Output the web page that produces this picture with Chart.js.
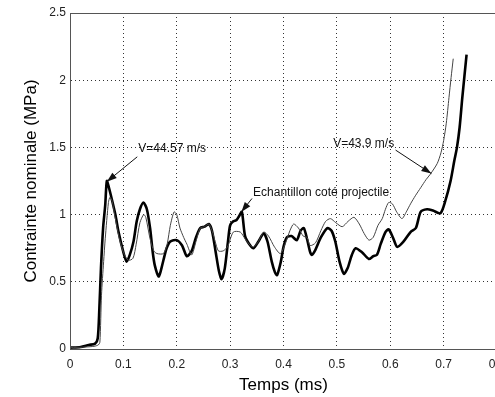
<!DOCTYPE html>
<html>
<head>
<meta charset="utf-8">
<script src="https://cdn.jsdelivr.net/npm/chart.js@4/dist/chart.umd.min.js"></script>
<style>
  html, body { margin: 0; padding: 0; background: #fff; overflow: hidden; }
  #wrap { width: 530px; height: 397px; }
</style>
</head>
<body>
<div id="wrap"><canvas id="chart" width="530" height="397"></canvas></div>
<script>
// thick curve (Echantillon coté projectile, V=44.57 m/s)
const tThick = [0, 0.02, 0.035, 0.047, 0.052, 0.055, 0.058, 0.062, 0.066, 0.069,
  0.073, 0.078, 0.085, 0.091, 0.1, 0.106, 0.112, 0.119, 0.125, 0.131,
  0.1375, 0.144, 0.15, 0.155, 0.159, 0.166, 0.17, 0.175, 0.181, 0.188,
  0.2, 0.21, 0.219, 0.228, 0.236, 0.244, 0.252, 0.26, 0.266, 0.273,
  0.279, 0.284, 0.29, 0.296, 0.3, 0.306, 0.312, 0.317, 0.322, 0.328,
  0.336, 0.344, 0.353, 0.363, 0.37, 0.378, 0.384, 0.388, 0.395, 0.4,
  0.406, 0.415, 0.425, 0.432, 0.438, 0.444, 0.45, 0.453, 0.46, 0.47,
  0.482, 0.49, 0.497, 0.505, 0.513, 0.52, 0.528, 0.535, 0.547, 0.56,
  0.568, 0.575, 0.582, 0.591, 0.597, 0.605, 0.613, 0.625, 0.638, 0.648,
  0.657, 0.669, 0.68, 0.694, 0.703, 0.713, 0.72, 0.725, 0.73, 0.735, 0.743];
const vThick = [0.01, 0.015, 0.03, 0.04, 0.08, 0.3, 0.6, 0.9, 1.07, 1.25,
  1.2, 1.12, 1.0, 0.87, 0.72, 0.65, 0.7, 0.8, 0.95, 1.04,
  1.09, 1.04, 0.9, 0.72, 0.62, 0.54, 0.58, 0.66, 0.75, 0.8,
  0.81, 0.77, 0.69, 0.73, 0.83, 0.9, 0.91, 0.93, 0.88, 0.72,
  0.58, 0.52, 0.6, 0.8, 0.92, 0.95, 0.96, 0.99, 1.02, 0.84,
  0.78, 0.75, 0.8, 0.86, 0.8, 0.65, 0.57, 0.55, 0.65, 0.76,
  0.83, 0.84, 0.81, 0.88, 0.9, 0.82, 0.72, 0.7, 0.74, 0.83,
  0.9, 0.88, 0.8, 0.65, 0.56, 0.6, 0.7, 0.75, 0.72, 0.67,
  0.69, 0.7, 0.78, 0.87, 0.89, 0.83, 0.76, 0.8, 0.87, 0.9,
  1.02, 1.04, 1.03, 1.01, 1.1, 1.25, 1.4, 1.5, 1.65, 1.87, 2.19];

// thin curve (V=43.9 m/s)
const tThin = [0, 0.03, 0.045, 0.053, 0.056, 0.059, 0.063, 0.066, 0.072, 0.075,
  0.079, 0.084, 0.092, 0.1, 0.109, 0.118, 0.124, 0.131, 0.138, 0.142,
  0.15, 0.157, 0.163, 0.175, 0.182, 0.188, 0.195, 0.2, 0.206, 0.213,
  0.219, 0.228, 0.236, 0.244, 0.252, 0.26, 0.266, 0.272, 0.278, 0.287,
  0.295, 0.306, 0.319, 0.328, 0.338, 0.344, 0.353, 0.363, 0.372, 0.383,
  0.394, 0.403, 0.412, 0.419, 0.428, 0.437, 0.444, 0.45, 0.46, 0.47,
  0.479, 0.488, 0.498, 0.51, 0.521, 0.532, 0.542, 0.551, 0.56, 0.568,
  0.577, 0.585, 0.591, 0.597, 0.604, 0.612, 0.622, 0.63, 0.638, 0.647,
  0.657, 0.667, 0.675, 0.688, 0.695, 0.7, 0.705, 0.71, 0.714, 0.718];
const vThin = [0.01, 0.015, 0.02, 0.03, 0.05, 0.4, 0.65, 0.82, 1.09, 1.13,
  1.1, 0.99, 0.83, 0.72, 0.66, 0.675, 0.78, 0.94, 1.0, 0.98,
  0.82, 0.73, 0.71, 0.71, 0.78, 0.92, 1.02, 1.0, 0.9, 0.83,
  0.78, 0.7, 0.8, 0.9, 0.91, 0.93, 0.88, 0.8, 0.73, 0.73,
  0.76, 0.87, 0.87, 0.82, 0.77, 0.76, 0.8, 0.87, 0.84, 0.76,
  0.71, 0.78, 0.88, 0.93, 0.9, 0.84, 0.83, 0.77, 0.79, 0.88,
  0.95, 0.97, 0.94, 0.91, 0.95, 0.98, 0.93, 0.86, 0.81, 0.83,
  0.92, 0.97, 1.04, 1.09, 1.08, 1.02, 0.97, 1.02, 1.08, 1.14,
  1.2, 1.26, 1.3, 1.38, 1.46, 1.55, 1.68, 1.87, 2.02, 2.16];

const xTicks = [0, 0.1, 0.2, 0.3, 0.4, 0.5, 0.6, 0.7, 0.8];
const yTicks = [0, 0.5, 1, 1.5, 2, 2.5];

// text label, arrow start, arrow tip (data coordinates)
const notes = [
  { text: 'V=44.57 m/s', tx: 0.128, ty: 1.49, x1: 0.126, y1: 1.43, x2: 0.069, y2: 1.245 },
  { text: 'V=43.9 m/s', tx: 0.493, ty: 1.53, x1: 0.61, y1: 1.48, x2: 0.677, y2: 1.305 },
  { text: 'Echantillon coté projectile', tx: 0.343, ty: 1.165, x1: 0.341, y1: 1.12, x2: 0.321, y2: 1.02 }
];

const FONT = '"Liberation Sans", Arial, sans-serif';

function toPoints(xs, ys) {
  return xs.map((x, i) => ({ x: x, y: ys[i] }));
}

const framePlugin = {
  id: 'frame',
  afterDraw(chart) {
    const a = chart.chartArea;
    const ctx = chart.ctx;
    ctx.save();
    ctx.strokeStyle = '#555';
    ctx.lineWidth = 1;
    ctx.strokeRect(a.left + 0.5, a.top + 0.5, a.right - a.left, a.bottom - a.top);
    ctx.restore();
  }
};

const notesPlugin = {
  id: 'notes',
  afterDatasetsDraw(chart) {
    const ctx = chart.ctx;
    const xs = chart.scales.x;
    const ys = chart.scales.y;
    ctx.save();
    ctx.font = '12px ' + FONT;
    ctx.textBaseline = 'middle';
    ctx.textAlign = 'left';
    notes.forEach(n => {
      ctx.fillStyle = '#111';
      ctx.fillText(n.text, xs.getPixelForValue(n.tx), ys.getPixelForValue(n.ty));
      const x1 = xs.getPixelForValue(n.x1), y1 = ys.getPixelForValue(n.y1);
      const x2 = xs.getPixelForValue(n.x2), y2 = ys.getPixelForValue(n.y2);
      ctx.strokeStyle = '#111';
      ctx.lineWidth = 1;
      ctx.beginPath();
      ctx.moveTo(x1, y1);
      ctx.lineTo(x2, y2);
      ctx.stroke();
      const ang = Math.atan2(y2 - y1, x2 - x1);
      const len = 10, w = 3.5;
      ctx.beginPath();
      ctx.moveTo(x2, y2);
      ctx.lineTo(x2 - len * Math.cos(ang) + w * Math.sin(ang), y2 - len * Math.sin(ang) - w * Math.cos(ang));
      ctx.lineTo(x2 - len * Math.cos(ang) - w * Math.sin(ang), y2 - len * Math.sin(ang) + w * Math.cos(ang));
      ctx.closePath();
      ctx.fill();
    });
    ctx.restore();
  }
};

new Chart(document.getElementById('chart'), {
  type: 'line',
  data: {
    datasets: [
      {
        label: 'V=43.9 m/s',
        data: toPoints(tThin, vThin),
        borderColor: '#444',
        borderWidth: 1,
        pointRadius: 0,
        tension: 0.25,
        fill: false
      },
      {
        label: 'V=44.57 m/s',
        data: toPoints(tThick, vThick),
        borderColor: '#000',
        borderWidth: 2.6,
        pointRadius: 0,
        tension: 0.25,
        fill: false
      }
    ]
  },
  options: {
    responsive: false,
    animation: false,
    layout: { padding: { left: 0, right: 33, top: 13, bottom: 0 } },
    plugins: {
      legend: { display: false },
      tooltip: { enabled: false }
    },
    scales: {
      x: {
        type: 'linear',
        min: 0,
        max: 0.8,
        afterBuildTicks: axis => { axis.ticks = xTicks.map(v => ({ value: v })); },
        afterFit: axis => { axis.height = 48; },
        grid: { color: '#333', drawTicks: false, lineWidth: 1 },
        border: { display: true, color: '#555', width: 1, dash: [1, 3] },
        ticks: {
          padding: 8, color: '#222', font: { family: FONT, size: 12 },
          callback: v => String(Math.round(v * 10) / 10)
        },
        title: {
          display: true,
          text: 'Temps (ms)',
          color: '#000',
          font: { family: FONT, size: 17 },
          padding: { top: 0, bottom: 1 }
        }
      },
      y: {
        type: 'linear',
        min: 0,
        max: 2.5,
        afterBuildTicks: axis => { axis.ticks = yTicks.map(v => ({ value: v })); },
        afterFit: axis => { axis.width = 70; },
        grid: { color: '#333', drawTicks: false, lineWidth: 1 },
        border: { display: true, color: '#555', width: 1, dash: [1, 3] },
        ticks: {
          padding: 4, color: '#222', font: { family: FONT, size: 12 },
          callback: v => String(Math.round(v * 10) / 10)
        },
        title: {
          display: true,
          text: 'Contrainte nominale (MPa)',
          color: '#000',
          font: { family: FONT, size: 17 },
          padding: { top: 21, bottom: 0 }
        }
      }
    }
  },
  plugins: [framePlugin, notesPlugin]
});
</script>
</body>
</html>
